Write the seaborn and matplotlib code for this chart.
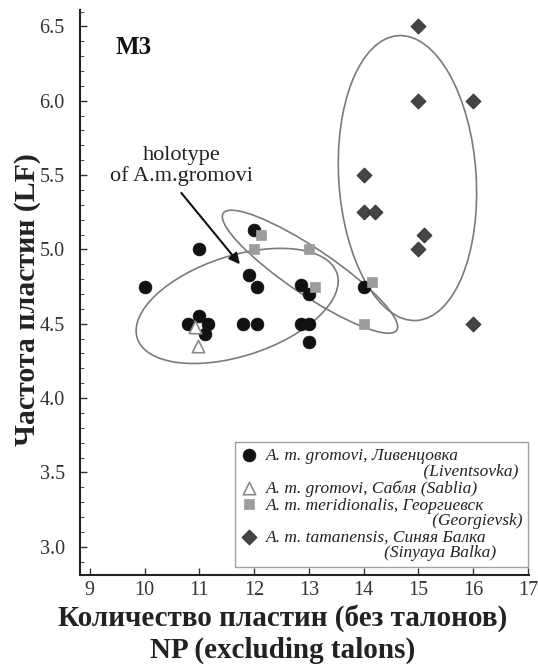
import numpy as np
import pandas as pd
import matplotlib
matplotlib.use("Agg")
import matplotlib.pyplot as plt
import seaborn as sns
from matplotlib.patches import Ellipse
from matplotlib.transforms import ScaledTranslation
from matplotlib.ticker import MultipleLocator

# ---- data ----
liv_np = [10.0, 11.0, 12.0, 11.9, 12.05, 10.8, 11.0, 11.15, 11.1, 11.8, 12.05,
          12.85, 13.0, 13.0, 12.85, 13.0, 14.0]
liv_lf = [4.75, 5.0, 5.13, 4.83, 4.75, 4.5, 4.55, 4.5, 4.43, 4.5, 4.5,
          4.5, 4.5, 4.38, 4.76, 4.7, 4.75]

sab_np = [10.92, 10.98]
sab_lf = [4.475, 4.35]

geo_np = [12.13, 12.0, 13.0, 13.12, 14.15, 14.0]
geo_lf = [5.1, 5.0, 5.0, 4.75, 4.78, 4.5]

sin_np = [15.0, 15.0, 16.0, 14.0, 14.0, 14.2, 15.1, 15.0, 16.0]
sin_lf = [6.5, 6.0, 6.0, 5.5, 5.25, 5.25, 5.1, 5.0, 4.5]

label_first = [
    "A. m. gromovi, Ливенцовка",
    "A. m. gromovi, Сабля (Sablia)",
    "A. m. meridionalis, Георгиевск",
    "A. m. tamanensis, Синяя Балка",
]
label_second = ["(Liventsovka)", "", "(Georgievsk)", "(Sinyaya Balka)"]
label_indent = [36, 0, 38, 27]   # leading spaces of the wrapped line

x_ticks = [9, 10, 11, 12, 13, 14, 15, 16, 17]
y_ticks = [3.0, 3.5, 4.0, 4.5, 5.0, 5.5, 6.0, 6.5]

# hand-drawn group ellipses: centre (data), semi-axes (inches), angle (deg)
ell_cx = [11.69, 13.02, 14.80]
ell_cy = [4.62, 4.85, 5.48]
ell_a = [1.05, 1.046, 1.427]
ell_b = [0.50, 0.23, 0.687]
ell_ang = [18.0, -34.0, 93.7]

labels = [f + ("\n" + " " * n + s if s else "")
          for f, s, n in zip(label_first, label_second, label_indent)]

# ---- plotting ----
sns.set_theme(style="ticks")
plt.rcParams['font.family'] = ['Liberation Serif', 'DejaVu Serif']

fig = plt.figure(figsize=(5.38, 6.66), dpi=100)
ax = fig.add_axes([0.1487, 0.1366, 0.8346, 0.8483])

df_liv = pd.DataFrame({"NP": liv_np, "LF": liv_lf})
df_sab = pd.DataFrame({"NP": sab_np, "LF": sab_lf})
df_geo = pd.DataFrame({"NP": geo_np, "LF": geo_lf})
df_sin = pd.DataFrame({"NP": sin_np, "LF": sin_lf})

sns.scatterplot(data=df_liv, x="NP", y="LF", ax=ax, marker="o", s=85,
                color="#111111", edgecolor="#111111", linewidth=0.5,
                label=labels[0], zorder=3)
sns.scatterplot(data=df_sab, x="NP", y="LF", ax=ax, marker="^", s=80,
                color="white", edgecolor="#8a8a8a", linewidth=1.2,
                label=labels[1], zorder=4)
sns.scatterplot(data=df_geo, x="NP", y="LF", ax=ax, marker="s", s=60,
                color="#9c9c9c", edgecolor="#9c9c9c", linewidth=0.5,
                label=labels[2], zorder=4)
sns.scatterplot(data=df_sin, x="NP", y="LF", ax=ax, marker="D", s=58,
                color="#444444", edgecolor="#2a2a2a", linewidth=0.6,
                label=labels[3], zorder=3)

ax.set_xlim(8.82, 17.02)
ax.set_ylim(2.81, 6.61)

for cx, cy, a, b, ang in zip(ell_cx, ell_cy, ell_a, ell_b, ell_ang):
    tr = fig.dpi_scale_trans + ScaledTranslation(cx, cy, ax.transData)
    ax.add_patch(Ellipse((0, 0), 2 * a, 2 * b, angle=ang, transform=tr,
                         fill=False, edgecolor="#7a7a7a", linewidth=1.2,
                         zorder=2))

ax.annotate("", xy=(11.74, 4.90), xytext=(10.67, 5.38),
            arrowprops=dict(arrowstyle="-|>", color="#111111", lw=1.5,
                            mutation_scale=16, shrinkA=0, shrinkB=0))
ax.text(10.67, 5.56, "holotype\nof A.m.gromovi", ha="center", va="center",
        fontsize=16, color="#222222", linespacing=1.1)
ax.text(9.8, 6.355, "M3", ha="center", va="center", fontsize=18,
        fontweight="bold", color="#111111")

ax.set_xticks(x_ticks)
ax.set_yticks(y_ticks)
ax.set_xticklabels([str(v) for v in x_ticks])
ax.set_yticklabels([f"{v:.1f}" for v in y_ticks])
ax.yaxis.set_minor_locator(MultipleLocator(0.1))
ax.tick_params(axis="both", which="major", direction="in", length=5,
               width=1, labelsize=14.5, labelcolor="#333333", color="#333333")
ax.tick_params(axis="y", which="major", pad=11)
ax.tick_params(axis="x", which="major", pad=4)
ax.tick_params(axis="y", which="minor", direction="in", length=3,
               width=0.8, color="#555555")
for side in ["top", "right"]:
    ax.spines[side].set_visible(False)
for side in ["left", "bottom"]:
    ax.spines[side].set_linewidth(1.5)
    ax.spines[side].set_color("#222222")

ax.set_xlabel("Количество пластин (без талонов)\nNP (excluding talons)",
              fontsize=21, fontweight="bold", color="#222222",
              linespacing=1.2)
ax.xaxis.set_label_coords(0.452, -0.052)
ax.set_ylabel("Частота пластин (LF)", fontsize=21.5, fontweight="bold",
              color="#222222")
ax.yaxis.set_label_coords(-0.086, 0.487)

fs_leg = 12.5
leg = ax.legend(loc="lower right", bbox_to_anchor=(0.998, 0.014),
                frameon=True, fancybox=False, edgecolor="#8a8a8a",
                prop={"style": "italic", "size": fs_leg}, handlelength=0.9,
                handletextpad=0.5, labelspacing=0.06, borderpad=0.35,
                borderaxespad=0)
leg.get_frame().set_linewidth(1.0)
for t, h in zip(leg.get_texts(), leg.legend_handles):
    t.set_color("#222222")
    t.set_linespacing(0.92)
    if "\n" in t.get_text():
        h.set_offsets(h.get_offsets() + np.array([0.0, 7.5]))

fig.savefig("out.png", dpi=100)
